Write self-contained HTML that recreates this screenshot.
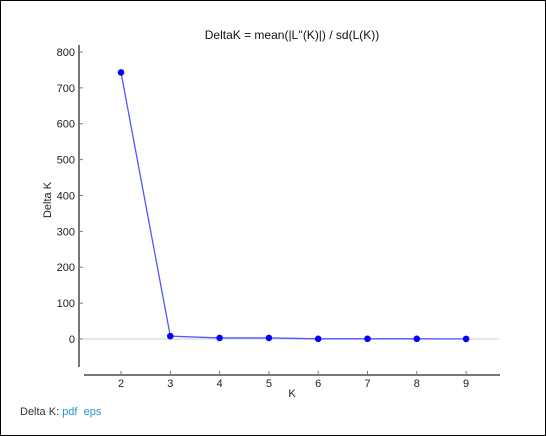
<!DOCTYPE html>
<html><head><meta charset="utf-8"><style>
body{margin:0;width:546px;height:436px;overflow:hidden;background:#fff;font-family:"Liberation Sans",sans-serif}
#frame{position:absolute;left:0;top:0;width:544px;height:434px;border:1px solid #000}
#links{position:absolute;left:20px;top:406px;font-size:11px;color:#333}
#links a{color:#2a8fd6;text-decoration:none}
</style></head><body>
<div id="frame"></div>
<svg width="546" height="436" style="position:absolute;left:0;top:0">
<text x="292" y="39" text-anchor="middle" font-size="12" fill="#111">DeltaK = mean(|L''(K)|) / sd(L(K))</text>
<g id="g"></g>
<text x="292" y="397" text-anchor="middle" font-size="11" fill="#222">K</text>
<text transform="translate(51,200) rotate(-90)" text-anchor="middle" font-size="11" fill="#222">Delta K</text>
</svg>
<div id="links">Delta K: <a href="#">pdf</a> &nbsp;<a href="#">eps</a></div>
<script>
const categories=[2,3,4,5,6,7,8,9];
const deltaK=[743,8,3,3,0.5,0.5,0.5,0.3];
const yTicks=[0,100,200,300,400,500,600,700,800];
const xTicks=[2,3,4,5,6,7,8,9];
const NS="http://www.w3.org/2000/svg";
const g=document.getElementById('g');
const xs=k=>121+(k-2)*49.3;
const ys=v=>339-v*0.3588;
function mk(t,a,p){const e=document.createElementNS(NS,t);for(const k in a)e.setAttribute(k,a[k]);(p||g).appendChild(e);return e;}
let e;
e=mk('line',{x1:84,x2:499,y1:ys(0),y2:ys(0),stroke:'#ddd','stroke-width':1.5});


e=mk('line',{x1:79,x2:79,y1:45,y2:367,stroke:'#777','stroke-width':2});


e=mk('line',{x1:84,x2:500,y1:375,y2:375,stroke:'#777','stroke-width':2});


yTicks.forEach(v=>{
 e=mk('line',{x1:80,x2:83,y1:ys(v),y2:ys(v),stroke:'#777'});
 
 
 e=mk('text',{x:75,y:ys(v)+4,'text-anchor':'end','font-size':11,fill:'#222'});e.textContent=v;
 
 
});
xTicks.forEach(k=>{
 e=mk('line',{x1:xs(k),x2:xs(k),y1:371,y2:374,stroke:'#777'});
 
 
 e=mk('text',{x:xs(k),y:387,'text-anchor':'middle','font-size':11,fill:'#222'});e.textContent=k;
 
 
});
e=mk('polyline',{points:categories.map((k,i)=>xs(k)+','+ys(deltaK[i])).join(' '),fill:'none',stroke:'#5555ff','stroke-width':1.3});


categories.forEach((k,i)=>{
 e=mk('circle',{cx:xs(k),cy:ys(deltaK[i]),r:3.3,fill:'#0000ff'});
 
 
});
</script>
</body></html>
